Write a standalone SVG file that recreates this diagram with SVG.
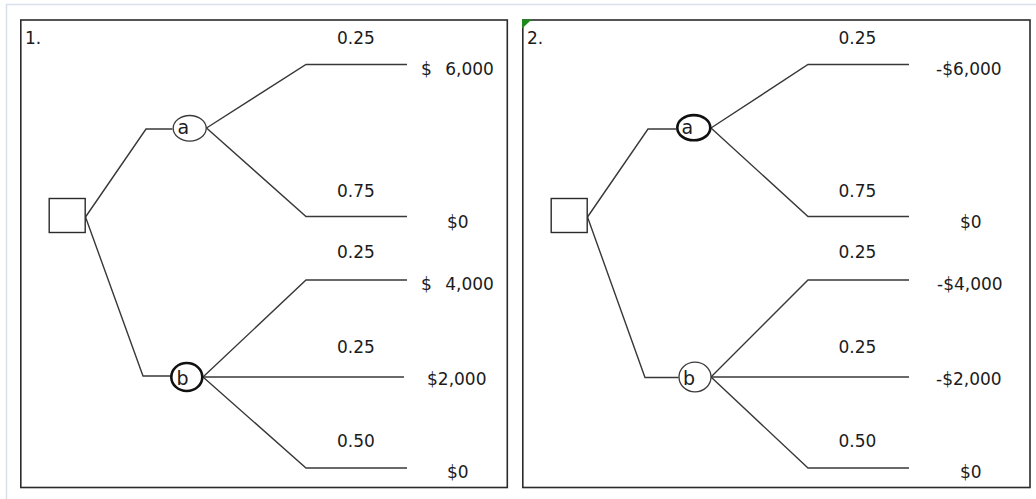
<svg xmlns="http://www.w3.org/2000/svg" width="1036" height="499" viewBox="0 0 1036 499">
  <style>
    .sheet { fill: #ffffff; stroke: #d9e0ea; stroke-width: 1.5; }
    .panel { fill: #ffffff; stroke: #2b2b2b; stroke-width: 1.6; }
    .edge { fill: none; stroke: #383838; stroke-width: 1.4; }
    .decision { fill: #ffffff; stroke: #2b2b2b; stroke-width: 1.4; }
    .chance { fill: #ffffff; stroke: #3a3a3a; stroke-width: 1.3; }
    .chance-bold { fill: #ffffff; stroke: #111111; stroke-width: 2.6; }
    text { font-family: "DejaVu Sans", "Noto Sans", sans-serif; font-size: 17px; fill: #1b1b1b; }
    .node-label { font-size: 19px; }
    .wide { word-spacing: 8px; }
  </style>

  <!-- sheet background and frames -->
  <rect class="sheet" x="6.5" y="4.5" width="1040" height="510"/>
  <rect id="panel-1" class="panel" x="20.8" y="20" width="486.5" height="467.5"/>
  <rect id="panel-2" class="panel" x="522.8" y="20" width="507.2" height="467.5"/>
  <polygon points="522,19.2 532,19.2 522,28.5" fill="#1e8a1e"/>

  <!-- connectors -->
  <g id="connectors" class="edge">
    <!-- tree 1 -->
    <polyline points="85.5,217 146,129 172.5,129"/>
    <polyline points="85.5,217 143,376 171,376"/>
    <polyline points="206.5,128 306,64.5 407,64.5"/>
    <polyline points="206.5,128 306,216.5 407,216.5"/>
    <polyline points="203,377 306,280 407,280"/>
    <line x1="203" y1="377" x2="404" y2="377"/>
    <polyline points="203,377 306,468 407,468"/>
    <!-- tree 2 -->
    <polyline points="587.5,217 648,129 676,129"/>
    <polyline points="587.5,217 645,377.5 678.5,377.5"/>
    <polyline points="711,128 808,64.5 909,64.5"/>
    <polyline points="711,128 808,216.5 909,216.5"/>
    <polyline points="711,377 808,280 909,280"/>
    <line x1="711" y1="377" x2="909" y2="377"/>
    <polyline points="711,377 808,468 909,468"/>
  </g>

  <!-- tree 1 -->
  <g id="tree-1-title"><text x="25" y="44">1.</text></g>
  <g id="tree-1-decision"><rect class="decision" x="49.2" y="198.5" width="36" height="34"/></g>
  <g id="tree-1-a">
    <ellipse class="chance" cx="189.7" cy="128.3" rx="16.5" ry="12.8"/>
    <text class="node-label" x="177.5" y="133.5">a</text>
  </g>
  <g id="tree-1-b">
    <ellipse class="chance-bold" cx="186.8" cy="377" rx="15.5" ry="14"/>
    <text class="node-label" x="176.5" y="384.5">b</text>
  </g>
  <g id="tree-1-labels">
    <text x="337" y="44">0.25</text>
    <text class="wide" x="421" y="75">$ 6,000</text>
    <text x="337" y="197">0.75</text>
    <text x="447" y="228">$0</text>
    <text x="337" y="258">0.25</text>
    <text class="wide" x="421" y="290">$ 4,000</text>
    <text x="337" y="353">0.25</text>
    <text x="427" y="385">$2,000</text>
    <text x="337" y="447">0.50</text>
    <text x="447" y="478">$0</text>
  </g>

  <!-- tree 2 -->
  <g id="tree-2-title"><text x="527" y="44">2.</text></g>
  <g id="tree-2-decision"><rect class="decision" x="551.2" y="198.5" width="36" height="34"/></g>
  <g id="tree-2-a">
    <ellipse class="chance-bold" cx="693.8" cy="127.7" rx="16.5" ry="12.6"/>
    <text class="node-label" x="681.5" y="134">a</text>
  </g>
  <g id="tree-2-b">
    <ellipse class="chance" cx="695" cy="377" rx="16" ry="14.8"/>
    <text class="node-label" x="683" y="384.5">b</text>
  </g>
  <g id="tree-2-labels">
    <text x="838.5" y="44">0.25</text>
    <text x="936" y="75">-$6,000</text>
    <text x="838.5" y="197">0.75</text>
    <text x="960" y="228">$0</text>
    <text x="838.5" y="258">0.25</text>
    <text x="937" y="290">-$4,000</text>
    <text x="838.5" y="353">0.25</text>
    <text x="936" y="385">-$2,000</text>
    <text x="838.5" y="447">0.50</text>
    <text x="960" y="478">$0</text>
  </g>
</svg>
